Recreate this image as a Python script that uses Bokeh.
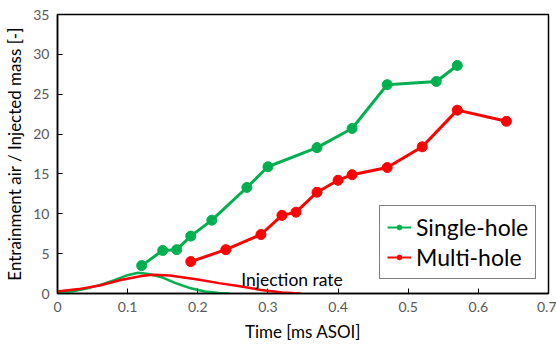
from bokeh.plotting import figure
from bokeh.models import Legend, LegendItem, Label, FixedTicker
from bokeh.embed import file_html
from bokeh.resources import INLINE

# Entrainment data
single_t = [0.12, 0.15, 0.17, 0.19, 0.22, 0.27, 0.30, 0.37, 0.42, 0.47, 0.54, 0.57]
single_v = [3.5, 5.4, 5.5, 7.2, 9.2, 13.3, 15.9, 18.3, 20.7, 26.2, 26.6, 28.6]
multi_t = [0.19, 0.24, 0.29, 0.32, 0.34, 0.37, 0.40, 0.42, 0.47, 0.52, 0.57, 0.64]
multi_v = [4.0, 5.5, 7.4, 9.8, 10.2, 12.7, 14.2, 14.9, 15.8, 18.4, 23.0, 21.6]

# Injection rate curves (arbitrary units, as drawn)
inj_single_t = [0.0, 0.02, 0.04, 0.06, 0.08, 0.10, 0.115, 0.13, 0.15, 0.17, 0.19, 0.21, 0.23, 0.245]
inj_single_v = [0.0, 0.25, 0.6, 1.05, 1.65, 2.3, 2.6, 2.45, 2.0, 1.25, 0.65, 0.25, 0.05, 0.0]
inj_multi_t = [0.0, 0.03, 0.06, 0.09, 0.12, 0.135, 0.16, 0.18, 0.20, 0.23, 0.26, 0.29, 0.32, 0.347]
inj_multi_v = [0.25, 0.55, 1.0, 1.7, 2.2, 2.35, 2.25, 2.0, 1.75, 1.3, 0.9, 0.45, 0.12, 0.0]

x_ticks = [0, 0.1, 0.2, 0.3, 0.4, 0.5, 0.6, 0.7]
x_tick_labels = ["0", "0.1", "0.2", "0.3", "0.4", "0.5", "0.6", "0.7"]
y_ticks = [0, 5, 10, 15, 20, 25, 30, 35]

GREEN = "#00B050"
RED = "#FF0000"
FONT = "Lato"

p = figure(width=556, height=345, x_range=(0, 0.7), y_range=(0, 35),
           output_backend="svg", toolbar_location=None,
           min_border_left=57, min_border_right=8, min_border_top=14, min_border_bottom=52)
p.background_fill_color = "white"
p.border_fill_color = "white"
p.outline_line_color = "black"
p.outline_line_width = 1.5
p.grid.visible = False

p.xaxis.ticker = FixedTicker(ticks=x_ticks)
p.yaxis.ticker = FixedTicker(ticks=y_ticks)
p.xaxis.major_label_overrides = {t: l for t, l in zip(x_ticks, x_tick_labels)}
for ax in (p.xaxis, p.yaxis):
    ax.axis_line_color = "black"
    ax.axis_line_width = 1.5
    ax.major_tick_in = 5
    ax.major_tick_out = 0
    ax.minor_tick_line_color = None
    ax.major_tick_line_color = "black"
    ax.major_label_text_font = FONT
    ax.major_label_text_font_size = "14px"
    ax.major_label_text_color = "#595959"
    ax.axis_label_text_font = FONT
    ax.axis_label_text_font_size = "17px"
    ax.axis_label_text_font_style = "normal"
    ax.axis_label_text_color = "black"
p.xaxis.axis_label = "Time [ms ASOI]"
p.yaxis.axis_label = "Entrainment air / Injected mass [-]"
p.xaxis.major_label_standoff = 8
p.yaxis.major_label_standoff = 8
p.xaxis.axis_label_standoff = 6
p.yaxis.axis_label_standoff = 5

# injection rate curves
p.line(inj_single_t, inj_single_v, line_color=GREEN, line_width=2.5)
p.line(inj_multi_t, inj_multi_v, line_color=RED, line_width=2.5)

# data series
p.line(single_t, single_v, line_color=GREEN, line_width=3)
p.scatter(single_t, single_v, size=10, fill_color=GREEN, line_color=GREEN)
p.line(multi_t, multi_v, line_color=RED, line_width=3)
p.scatter(multi_t, multi_v, size=10, fill_color=RED, line_color=RED)

p.add_layout(Label(x=0.262, y=1.75, text="Injection rate", text_font=FONT,
                   text_font_size="17.5px", text_color="black", text_baseline="alphabetic"))

# legend proxies (drawn outside the visible range)
proxy_x = [-1.0, -0.9]
proxy_y = [-10.0, -10.0]
gl = p.line(proxy_x, proxy_y, line_color=GREEN, line_width=2)
gs = p.scatter(proxy_x, proxy_y, size=4, fill_color=GREEN, line_color=GREEN)
rl = p.line(proxy_x, proxy_y, line_color=RED, line_width=2)
rs = p.scatter(proxy_x, proxy_y, size=4, fill_color=RED, line_color=RED)

legend = Legend(items=[LegendItem(label="Single-hole", renderers=[gl, gs]),
                       LegendItem(label="Multi-hole", renderers=[rl, rs])],
                location=(322, 14))
legend.label_text_font = FONT
legend.label_text_font_size = "23px"
legend.label_text_color = "black"
legend.border_line_color = "black"
legend.border_line_width = 1.5
legend.glyph_width = 24
legend.glyph_height = 12
legend.label_height = 22
legend.label_standoff = 5
legend.padding = 7
legend.spacing = 2
legend.margin = 0
p.add_layout(legend, "center")

open("out.html", "w").write(file_html(p, INLINE))
